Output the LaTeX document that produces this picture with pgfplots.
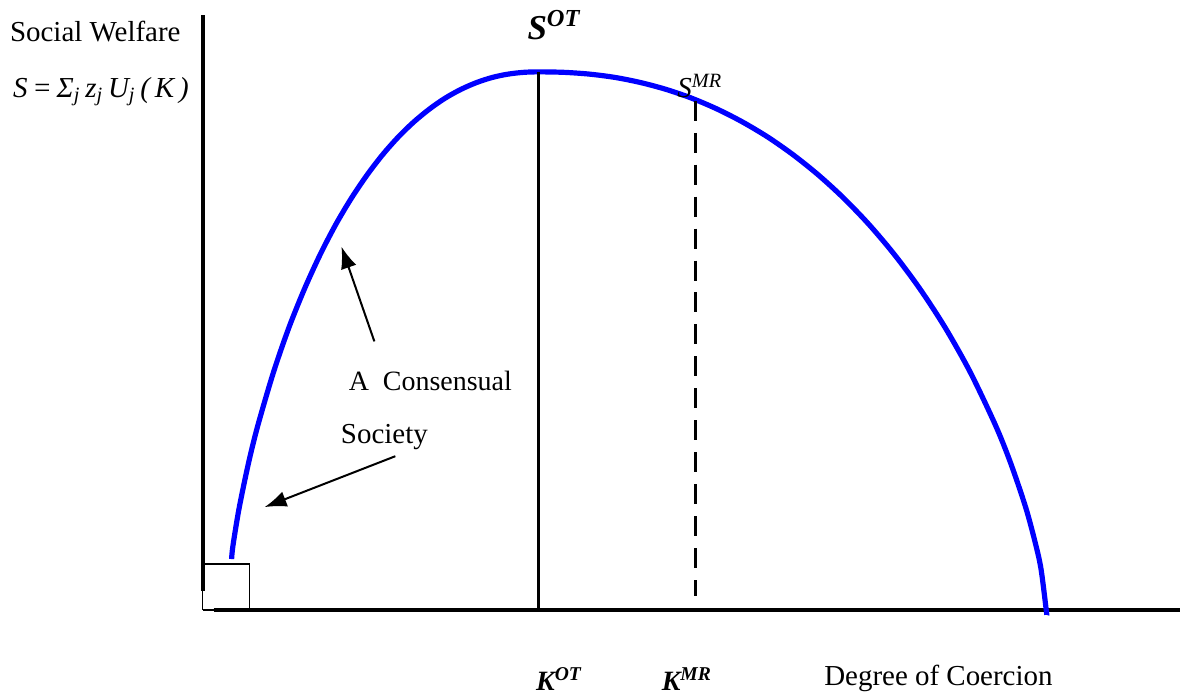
\documentclass[border=0pt]{standalone}
\usepackage{fontspec}
\setmainfont{Liberation Serif}
\usepackage{pgfplots}
\pgfplotsset{compat=1.18}
\usetikzlibrary{arrows.meta}

\tikzset{
  lab/.style={font=\fontsize{14.5}{17}\selectfont},
  big/.style={font=\fontsize{14}{17}\selectfont\bfseries\itshape},
}

\begin{document}
\begin{tikzpicture}
\begin{axis}[
  scale only axis, width=591pt, height=348.5pt,
  xmin=-203, xmax=979, ymin=-86, ymax=611,
  axis lines=none, clip=false,
]
% frame that fixes the picture's extent
\addplot[draw=none] coordinates {(-203,-86)(979,611)};

% axes
\addplot[black, line width=2pt] coordinates {(0,19)(0,596)};
\addplot[black, line width=2pt] coordinates {(11,0)(979,0)};
\addplot[black, line width=0.75pt] coordinates {(0,0)(0,46)(47,46)(47,0)(0,0)};

% welfare curve
\addplot[color={rgb,255:red,0;green,0;blue,255}, line width=2.6pt, smooth] coordinates {
  (29,51)(30.3,64.1)(36.5,101.8)(45.9,147.0)(55.3,184.9)(71.0,238.3)
  (86.6,283.4)(102.3,322.3)(117.9,356.4)(133.5,386.4)(149.2,412.8)
  (164.9,436.0)(180.5,456.3)(196.2,474.0)(211.8,489.1)(227.5,502.0)
  (243.1,512.8)(258.8,521.5)(274.4,528.3)(290.1,533.4)(305.7,536.7)
  (321.3,538.5)(337,539)(362.4,538.5)(387.8,536.7)(413.2,533.4)
  (438.6,528.3)(464,521.5)(489.4,512.8)(514.8,502.0)(540.2,489.1)
  (565.6,474.0)(591,456.3)(616.4,436.0)(641.8,412.8)(667.2,386.4)
  (692.6,356.4)(718,322.3)(743.4,283.4)(768.8,238.3)(794.2,184.9)
  (809.4,147.0)(824.7,101.8)(834.8,64.1)(839.9,40.2)(845,0)(845.5,-5)};

% optimum and majority-rule levels
\addplot[black, line width=1.5pt] coordinates {(336,539)(336,0)};
\addplot[black, line width=1.5pt, dash pattern=on 10pt off 6pt] coordinates {(494,510)(494,14)};

% pointers
\addplot[black, line width=1pt, -{Latex[length=11pt,width=8pt]}] coordinates {(172,269)(139,364)};
\addplot[black, line width=1pt, -{Latex[length=11pt,width=8pt]}] coordinates {(193,154)(62,103)};

% labels
\node[lab, anchor=west] at (axis cs:-200,579) {Social Welfare};
\node[lab, anchor=west] at (axis cs:-197,519) {\itshape S\,=\,Σ\textsubscript{j}\,z\textsubscript{j}\,U\textsubscript{j}\,(\,K\,)};
\node[font=\fontsize{17.5}{20}\selectfont\bfseries\itshape] at (axis cs:352,586) {S\textsuperscript{OT}};
\node[lab] at (axis cs:498,525) {\itshape S\textsuperscript{MR}};
\node[big] at (axis cs:357,-69) {K\textsuperscript{OT}};
\node[big] at (axis cs:485,-69) {K\textsuperscript{MR}};
\node[lab] at (axis cs:737,-69) {Degree of Coercion};
\node[font=\fontsize{14}{17}\selectfont] at (axis cs:228,229) {A\ \ Consensual};
\node[lab] at (axis cs:182,173) {Society};
\end{axis}
\end{tikzpicture}
\end{document}
